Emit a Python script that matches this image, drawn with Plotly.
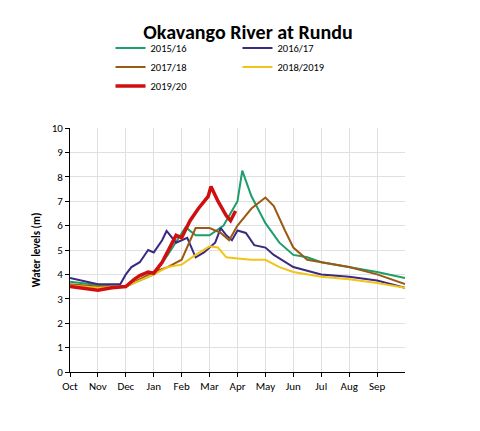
import plotly.graph_objects as go

months = ['Oct', 'Nov', 'Dec', 'Jan', 'Feb', 'Mar', 'Apr', 'May', 'Jun', 'Jul', 'Aug', 'Sep']

# x in months since 1 Oct
x_1516 = [0, 1, 1.5, 2, 3, 3.5, 4.14, 4.5, 5, 5.5, 6, 6.17, 6.5, 7, 7.5, 8, 8.5, 9, 10, 11, 12]
y_1516 = [3.7, 3.55, 3.5, 3.5, 4.0, 4.8, 5.93, 5.6, 5.6, 6.0, 7.0, 8.25, 7.2, 6.1, 5.3, 4.8, 4.7, 4.5, 4.3, 4.1, 3.85]

x_1617 = [0, 1, 1.8, 2, 2.2, 2.5, 2.8, 3, 3.3, 3.46, 3.8, 4.2, 4.5, 4.8, 5, 5.2, 5.4, 5.6, 5.8, 6, 6.3, 6.6, 7, 7.3, 8, 9, 10, 11, 12]
y_1617 = [3.85, 3.6, 3.6, 4.0, 4.3, 4.5, 5.0, 4.9, 5.4, 5.78, 5.3, 5.5, 4.7, 4.9, 5.1, 5.3, 5.9, 5.6, 5.4, 5.8, 5.7, 5.2, 5.1, 4.8, 4.3, 4.0, 3.9, 3.75, 3.45]

x_1718 = [0, 1, 2, 3, 3.5, 4, 4.5, 5, 5.4, 5.7, 6, 6.5, 7, 7.3, 7.7, 8, 8.5, 9, 10, 11, 12]
y_1718 = [3.6, 3.5, 3.5, 4.1, 4.3, 4.6, 5.9, 5.9, 5.7, 5.4, 6.0, 6.7, 7.15, 6.8, 5.8, 5.1, 4.6, 4.5, 4.3, 4.0, 3.6]

x_1819 = [0, 1, 2, 3, 3.5, 4, 4.5, 5, 5.3, 5.6, 6, 6.5, 7, 7.5, 8, 9, 10, 11, 12]
y_1819 = [3.55, 3.45, 3.5, 4.0, 4.3, 4.4, 4.8, 5.15, 5.1, 4.7, 4.65, 4.6, 4.6, 4.3, 4.1, 3.9, 3.8, 3.65, 3.45]

x_1920 = [0, 1, 1.5, 2, 2.3, 2.5, 2.8, 3, 3.3, 3.6, 3.8, 4, 4.3, 4.6, 4.95, 5.05, 5.3, 5.6, 5.75, 5.93]
y_1920 = [3.5, 3.35, 3.45, 3.5, 3.8, 3.95, 4.1, 4.05, 4.5, 5.2, 5.6, 5.5, 6.2, 6.7, 7.2, 7.6, 7.0, 6.4, 6.2, 6.6]

series = [
    ('2015/16', x_1516, y_1516, '#1a9e6a', 2),
    ('2016/17', x_1617, y_1617, '#3b2a82', 2),
    ('2017/18', x_1718, y_1718, '#9a5a14', 2),
    ('2018/2019', x_1819, y_1819, '#f2c418', 2),
    ('2019/20', x_1920, y_1920, '#d01010', 3.5),
]

fig = go.Figure()
for name, xs, ys, col, w in series:
    fig.add_trace(go.Scatter(x=xs, y=ys, name=name, mode='lines',
                             line=dict(color=col, width=w)))

fig.update_layout(
    width=480, height=431,
    paper_bgcolor='white', plot_bgcolor='white',
    font=dict(family='Calibri, Liberation Sans, sans-serif', color='black', size=11),
    title=dict(text='<b>Okavango River at Rundu</b>', x=0.5, xanchor='center', y=0.96,
               font=dict(size=20)),
    legend=dict(orientation='h', x=0.5, xanchor='center', y=1.25, yanchor='middle',
                font=dict(size=10.5), entrywidth=82, entrywidthmode='pixels',
                itemwidth=30, tracegroupgap=0),
    margin=dict(l=62, r=83, t=120, b=67),
    xaxis=dict(range=[0, 12], tickvals=list(range(12)), ticktext=months,
               showgrid=True, gridcolor='#e0e0e0', showline=True, linecolor='black',
               ticks='outside', ticklen=4, tickcolor='black', zeroline=False),
    yaxis=dict(range=[0, 10], dtick=1, showgrid=True, gridcolor='#e0e0e0',
               showline=True, linecolor='black', ticks='outside', ticklen=4,
               tickcolor='black', zeroline=False,
               title=dict(text='<b>Water levels (m)</b>', font=dict(size=11), standoff=8)),
)

fig.write_html("out.html")
